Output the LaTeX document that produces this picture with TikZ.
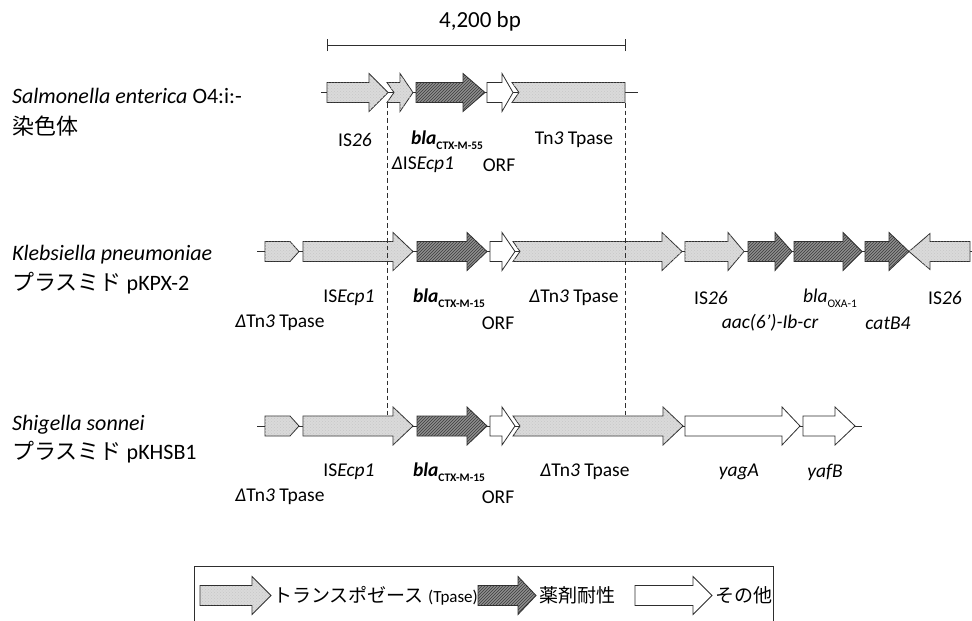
\documentclass[tikz,border=0pt]{standalone}
\usepackage{fontspec}
\setmainfont{Carlito}
\newfontfamily\jp{Noto Sans CJK JP}
\usetikzlibrary{patterns}
\definecolor{edge}{HTML}{2E2E2E}
\definecolor{tpfill}{HTML}{DADADA}
\definecolor{rsfill}{HTML}{8E8E8E}
\definecolor{rsline}{HTML}{3C3C3C}
\newcommand\subtxt[1]{\raisebox{-0.28em}{\fontsize{11.5}{12}\selectfont #1}}
% forward gene arrow: style, x-start, x-head, x-tip, y, notch depth
\newcommand\fwdarrow[6]{%
  \path[#1] (#2,#5-10) -- (#3,#5-10) -- (#3,#5-19) -- (#4,#5) -- (#3,#5+19)
    -- (#3,#5+10) -- (#2,#5+10) -- (#2+#6,#5) -- cycle;}
\begin{document}
\begin{tikzpicture}[x=1pt,y=-1pt,
  tp/.style={fill=tpfill,draw=edge,line width=0.8pt,line join=miter,postaction={pattern=crosshatch dots,pattern color=black!22}},
  rs/.style={fill=rsfill,draw=edge,line width=0.8pt,postaction={pattern=north east lines,pattern color=rsline}},
  ot/.style={fill=white,draw=edge,line width=0.8pt},
  backbone/.style={draw=edge,line width=0.8pt},
  guide/.style={draw=edge,line width=0.75pt,dash pattern=on 4.5pt off 3pt},
  lbl/.style={font=\fontsize{19.5}{21}\selectfont,inner sep=0pt},
  ttl/.style={font=\fontsize{22}{24}\selectfont,anchor=west,inner sep=0pt},
  legtxt/.style={font=\jp\fontsize{19}{21}\selectfont,anchor=west,inner sep=0pt}]
\useasboundingbox (0,0) rectangle (972,621);
\clip (0,0) rectangle (972,621);
\fill[white] (0,0) rectangle (972,621);

% scale bar
\coordinate (sbl) at (327,45);
\coordinate (sbr) at (625,45);
\draw[backbone] (sbl) -- (sbr);
\draw[backbone] ([yshift=-6pt]sbl) -- ([yshift=6pt]sbl);
\draw[backbone] ([yshift=-6pt]sbr) -- ([yshift=6pt]sbr);
\node[font=\fontsize{23}{25}\selectfont,inner sep=0pt] (scale) at (480,21) {4,200 bp};

% ---------- row 1 : Salmonella ----------
\coordinate (r1a) at (321,92.5);
\coordinate (r1b) at (638,92.5);
\draw[backbone] (r1a) -- (r1b);
\fwdarrow{tp}{327}{369}{388}{92.5}{0}
\fwdarrow{tp}{387}{400}{413}{92.5}{7}
\fwdarrow{rs}{416}{463}{485}{92.5}{0}
\fwdarrow{ot}{487}{502}{513}{92.5}{0}
\path[tp] (512,82.5) -- (625,82.5) -- (625,102.5) -- (512,102.5) -- (519,92.5) -- cycle;

\node[ttl] (t1a) at (12,96) {\itshape Salmonella enterica \upshape O4:i:-};
\node[ttl,font=\jp\fontsize{22}{24}\selectfont] (t1b) at (12,126) {染色体};

\node[lbl] (l1a) at (355,140) {IS\textit{26}};
\node[lbl] (l1b) at (447,140) {{\bfseries\itshape bla}\subtxt{\bfseries CTX-M-55}};
\node[lbl] (l1c) at (574,140) {Tn\textit{3} Tpase};
\node[lbl] (l1d) at (423,165) {\textit{Δ}IS\textit{Ecp1}};
\node[lbl] (l1e) at (499,165) {ORF};

% ---------- row 2 : Klebsiella ----------
\coordinate (r2a) at (257,251.5);
\coordinate (r2b) at (972,251.5);
\draw[backbone] (r2a) -- (r2b);
\path[tp] (265,241.5) -- (290,241.5) -- (299,251.5) -- (290,261.5) -- (265,261.5) -- cycle;
\fwdarrow{tp}{303}{393}{413}{251.5}{0}
\fwdarrow{rs}{417}{467}{487}{251.5}{0}
\fwdarrow{ot}{490}{502}{515}{251.5}{0}
\fwdarrow{tp}{513}{662}{682}{251.5}{7}
\fwdarrow{tp}{685}{728}{744}{251.5}{0}
\fwdarrow{rs}{748}{775}{792}{251.5}{0}
\fwdarrow{rs}{794}{843}{862}{251.5}{0}
\fwdarrow{rs}{865}{889}{909}{251.5}{0}
\path[tp] (970,241.5) -- (930,241.5) -- (930,233.5) -- (909,251.5) -- (930,269.5)
  -- (930,261.5) -- (970,261.5) -- cycle;

\node[ttl] (t2a) at (12,255) {\itshape Klebsiella pneumoniae};
\node[ttl] (t2b) at (12,283) {{\jp プラスミド} pKPX-2};

\node[lbl] (l2a) at (280,323) {\textit{Δ}Tn\textit{3} Tpase};
\node[lbl] (l2b) at (349,298) {IS\textit{Ecp1}};
\node[lbl] (l2c) at (449,298) {{\bfseries\itshape bla}\subtxt{\bfseries CTX-M-15}};
\node[lbl] (l2d) at (498,323) {ORF};
\node[lbl] (l2e) at (574,298) {\textit{Δ}Tn\textit{3} Tpase};
\node[lbl] (l2f) at (711,298) {IS\textit{26}};
\node[lbl] (l2g) at (830,298) {\textit{bla}\subtxt{OXA-1}};
\node[lbl] (l2h) at (770,323) {\itshape aac(6’)-Ib-cr};
\node[lbl] (l2i) at (888,323) {\itshape catB4};
\node[lbl] (l2j) at (945,298) {IS\textit{26}};

% ---------- row 3 : Shigella ----------
\coordinate (r3a) at (257,426);
\coordinate (r3b) at (862,426);
\draw[backbone] (r3a) -- (r3b);
\path[tp] (265,416) -- (290,416) -- (299,426) -- (290,436) -- (265,436) -- cycle;
\fwdarrow{tp}{303}{393}{413}{426}{0}
\fwdarrow{rs}{417}{467}{487}{426}{0}
\fwdarrow{ot}{490}{502}{515}{426}{0}
\fwdarrow{tp}{513}{663}{683}{426}{7}
\fwdarrow{ot}{685}{782}{800}{426}{0}
\fwdarrow{ot}{803}{835}{855}{426}{0}

\node[ttl] (t3a) at (12,425) {\itshape Shigella sonnei};
\node[ttl] (t3b) at (12,452) {{\jp プラスミド} pKHSB1};

\node[lbl] (l3a) at (280,497) {\textit{Δ}Tn\textit{3} Tpase};
\node[lbl] (l3b) at (349,472) {IS\textit{Ecp1}};
\node[lbl] (l3c) at (449,472) {{\bfseries\itshape bla}\subtxt{\bfseries CTX-M-15}};
\node[lbl] (l3d) at (498,497) {ORF};
\node[lbl] (l3e) at (585,472) {\textit{Δ}Tn\textit{3} Tpase};
\node[lbl] (l3f) at (739,472) {\itshape yagA};
\node[lbl] (l3g) at (825,472) {\itshape yafB};

% dashed alignment guides
\coordinate (g1t) at (387,103);
\coordinate (g1b) at (387,416);
\coordinate (g2t) at (625,103);
\coordinate (g2b) at (625,416);
\draw[guide] (g1t) -- (g1b);
\draw[guide] (g2t) -- (g2b);

% ---------- legend ----------
\draw[draw=edge,line width=0.8pt] (194,630) |- (773,566) -- (773,630);
\fwdarrow{tp}{200}{252}{271}{595.5}{0}
\node[legtxt] (k1) at (273,595.5) {トランスポゼース {\rmfamily\fontsize{17}{19}\selectfont (Tpase)}};
\fwdarrow{rs}{478}{518}{536}{595.5}{0}
\node[legtxt] (k2) at (539,595.5) {薬剤耐性};
\fwdarrow{ot}{635}{693}{712}{595.5}{0}
\node[legtxt] (k3) at (715,595.5) {その他};
\end{tikzpicture}
\end{document}
